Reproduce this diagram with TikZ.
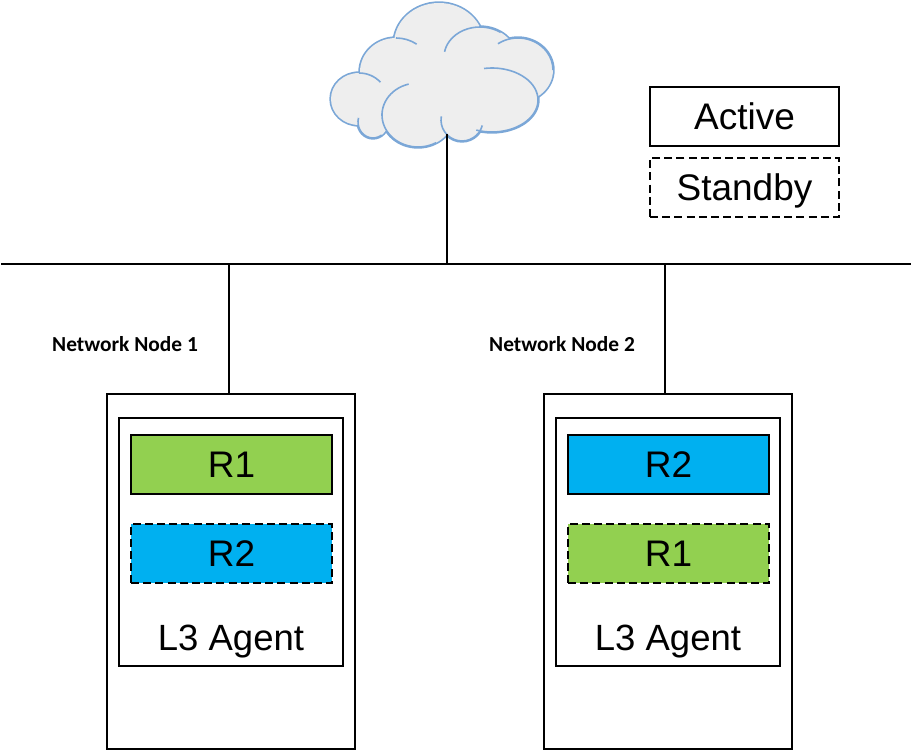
\documentclass[tikz,border=0pt]{standalone}
\usepackage{fontspec}
\setmainfont{Liberation Sans}
\newfontfamily\labelfont{Carlito}
\definecolor{activegreen}{HTML}{92D050}
\definecolor{activeblue}{HTML}{00B0F0}
\definecolor{cloudfill}{HTML}{EEEEEE}
\definecolor{cloudedge}{HTML}{7BA7D7}
\tikzset{
  box/.style={draw=black,line width=1.8pt,minimum width=#1,inner sep=0pt},
  legendbox/.style={box=189pt,minimum height=59pt,font=\fontsize{37}{37}\selectfont,text height=26pt,text depth=0pt},
  routerbox/.style={box=201pt,minimum height=59pt,font=\fontsize{37}{37}\selectfont,text height=26pt,text depth=0pt},
  standby/.style={dash pattern=on 8pt off 4.2pt},
  nodelabel/.style={font=\labelfont\bfseries\fontsize{21.4}{21.4}\selectfont,inner sep=0pt},
  agentlabel/.style={font=\fontsize{36.5}{36.5}\selectfont,inner sep=0pt,text height=26pt,text depth=0pt},
  wire/.style={black,line width=1.8pt}
}
\begin{document}
\begin{tikzpicture}[x=1pt,y=1pt]
\useasboundingbox (0,0) rectangle (912,-751);
% cloud
\foreach \cx/\cy/\rx/\ry in {439/-44/45/41,396/-72/36/34,359/-99/28/26,373/-122/15/16,418/-115/36/32,462/-120/21/21,492/-100/46/32,518/-70/35/32,480/-57/36/30}
  \draw [cloudedge,line width=3.4pt] (\cx,\cy) ellipse [x radius=\rx,y radius=\ry];
\foreach \cx/\cy/\rx/\ry in {439/-44/45/41,396/-72/36/34,359/-99/28/26,373/-122/15/16,418/-115/36/32,462/-120/21/21,492/-100/46/32,518/-70/35/32,480/-57/36/30}
  \fill [cloudfill] (\cx,\cy) ellipse [x radius=\rx,y radius=\ry];
\fill [cloudfill] (400,-60) rectangle (500,-125);
\foreach \cx/\cy/\rx/\ry/\sa/\ea in {396/-72/36/34/90/55,359/-99/28/26/90/40,373/-122/15/16/165/305,418/-115/36/32/105/300,462/-120/21/21/170/345,492/-100/46/32/100/-110,480/-57/36/30/170/55,518/-70/35/32/125/0}
  \draw [cloudedge,line width=1.6pt] (\cx,\cy) ++(\sa:\rx pt and \ry pt) arc [start angle=\sa,end angle=\ea,x radius=\rx,y radius=\ry];
% bus
\coordinate (busl) at (1,-264);
\coordinate (busr) at (911,-264);
\coordinate (tapc) at (447,-264);
\coordinate (tapa) at (229,-264);
\coordinate (tapb) at (665,-264);
\coordinate (cloudb) at (447,-134);
\draw [wire] (busl) -- (busr);
% legend
\node [legendbox] (active) at (744.5,-116.5) {Active};
\node [legendbox,standby] (standbykey) at (744.5,-187.5) {Standby};
% node 1
\node [box=248pt,minimum height=355pt] (srva) at (231,-571.5) {};
\node [box=224pt,minimum height=248pt] (agenta) at (231,-542) {};
\node [routerbox,fill=activegreen] (ra) at (231.5,-464.5) {R1};
\node [routerbox,fill=activeblue,standby] (rb) at (231.5,-553.5) {R2};
\node [agentlabel] (laba) at (231,-637) {L3 Agent};
\node [nodelabel] (namea) at (125,-344) {Network Node 1};
% node 2
\node [box=248pt,minimum height=355pt] (srvb) at (668,-571.5) {};
\node [box=224pt,minimum height=248pt] (agentb) at (668,-542) {};
\node [routerbox,fill=activeblue] (rc) at (668.5,-464.5) {R2};
\node [routerbox,fill=activegreen,standby] (rd) at (668.5,-553.5) {R1};
\node [agentlabel] (labb) at (668,-637) {L3 Agent};
\node [nodelabel] (nameb) at (562,-344) {Network Node 2};
% links
\draw [wire] (cloudb) -- (tapc);
\draw [wire] (tapa) -- (tapa |- srva.north);
\draw [wire] (tapb) -- (tapb |- srvb.north);
\end{tikzpicture}
\end{document}
